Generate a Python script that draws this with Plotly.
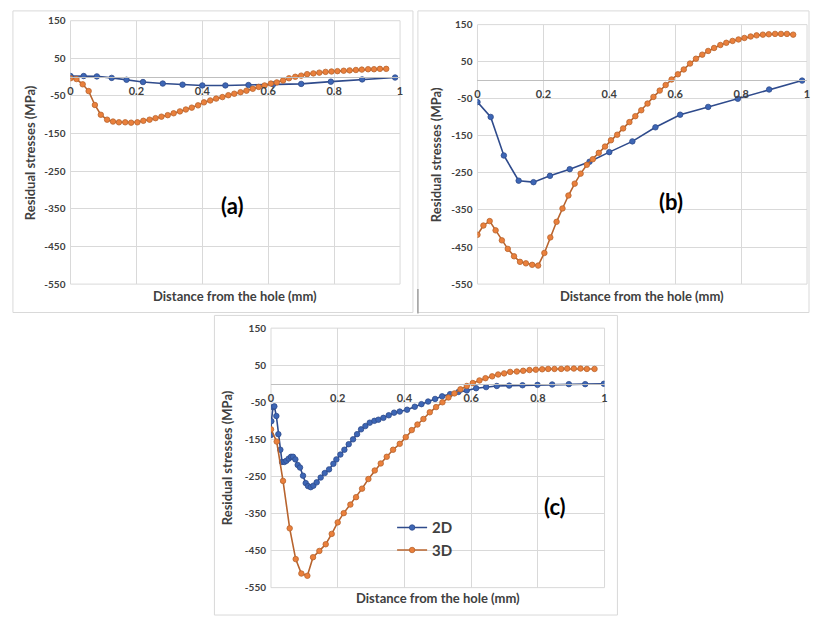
import plotly.graph_objects as go

W, H = 814, 623

# ---------------- data ----------------
X2D_AB = [0.0, 0.04, 0.08, 0.125, 0.17, 0.22, 0.28, 0.34, 0.40, 0.47, 0.54, 0.615, 0.70, 0.79, 0.885, 0.985]
Y2D_A = [3, 3, 2, -2, -7, -13, -17, -20, -22, -22, -21, -19, -18, -12, -6, -1]
Y2D_B = [-59, -99, -203, -271, -275, -258, -240, -220, -194, -165, -127, -93, -72, -50, -25, -1]

X3D_AB = [0.000, 0.018, 0.037, 0.055, 0.074, 0.092, 0.111, 0.129, 0.147, 0.166, 0.184, 0.203,
          0.221, 0.240, 0.258, 0.276, 0.295, 0.313, 0.332, 0.350, 0.368, 0.387, 0.405, 0.424,
          0.442, 0.461, 0.479, 0.497, 0.516, 0.534, 0.553, 0.571, 0.589, 0.608, 0.626, 0.645,
          0.663, 0.682, 0.700, 0.718, 0.737, 0.755, 0.774, 0.792, 0.810, 0.829, 0.847, 0.866,
          0.884, 0.903, 0.921, 0.939, 0.958]
Y3D_A = [-3, -5, -19, -37, -74, -100, -113, -118, -120, -120, -121, -120,
         -116, -113, -109, -105, -101, -96, -91, -86, -81, -75, -67, -62,
         -57, -53, -48, -44, -40, -36, -31, -26, -22, -17, -14, -9,
         -3, 1, 4, 8, 10, 12, 14, 15, 16, 17, 18, 19,
         20, 21, 21, 22, 22]
Y3D_B = [-417, -392, -380, -405, -432, -455, -475, -490, -494, -498, -500, -466,
         -424, -382, -346, -311, -279, -252, -228, -213, -196, -179, -162, -147,
         -130, -113, -97, -81, -63, -45, -28, -13, 2, 16, 29, 45,
         58, 69, 79, 87, 95, 101, 106, 110, 114, 118, 121, 123,
         124, 125, 125, 125, 123]

X2D_C = [0.0, 0.001, 0.006, 0.010, 0.016, 0.022, 0.028, 0.033, 0.040, 0.046, 0.053, 0.060,
         0.066, 0.073, 0.080, 0.087, 0.096, 0.104, 0.111, 0.119, 0.127, 0.137, 0.149, 0.161,
         0.174, 0.187, 0.196, 0.208, 0.220, 0.233, 0.246, 0.258, 0.270, 0.283, 0.296, 0.310,
         0.322, 0.337, 0.353, 0.369, 0.386, 0.408, 0.431, 0.451, 0.471, 0.492, 0.513, 0.537,
         0.562, 0.587, 0.615, 0.645, 0.677, 0.714, 0.754, 0.799, 0.843, 0.893, 0.942, 0.998]
Y2D_C = [-138, -101, -63, -61, -87, -136, -178, -211, -211, -208, -202, -197,
         -197, -204, -219, -226, -248, -268, -276, -279, -275, -266, -253, -241,
         -231, -216, -204, -191, -178, -163, -150, -136, -123, -114, -105, -100,
         -97, -92, -85, -78, -75, -70, -62, -55, -48, -41, -34, -28,
         -22, -18, -12, -9, -6, -5, -4, -3, -2, -1, -1, 0]

X3D_C = [0.000, 0.017, 0.036, 0.056, 0.074, 0.091, 0.109, 0.126, 0.145, 0.164, 0.182, 0.200,
         0.218, 0.238, 0.255, 0.273, 0.292, 0.311, 0.329, 0.347, 0.366, 0.386, 0.404, 0.422,
         0.439, 0.457, 0.476, 0.495, 0.514, 0.532, 0.550, 0.568, 0.587, 0.605, 0.625, 0.643,
         0.663, 0.681, 0.699, 0.717, 0.737, 0.756, 0.775, 0.794, 0.813, 0.831, 0.850, 0.870,
         0.888, 0.908, 0.928, 0.947, 0.970]
Y3D_C = [-123, -156, -262, -390, -473, -512, -518, -468, -451, -433, -405, -374,
         -349, -326, -306, -283, -257, -234, -215, -197, -178, -162, -144, -125,
         -110, -95, -77, -63, -50, -37, -26, -15, -6, 2, 9, 15,
         20, 25, 28, 32, 33, 35, 37, 38, 39, 40, 40, 40,
         41, 41, 41, 40, 40]

Y_TICKS = [150, 50, -50, -150, -250, -350, -450, -550]
Y_TICKTEXT = ["150", "50", "-50", "-150", "-250", "-350", "-450", "-550"]
X_TICKS = [0, 0.2, 0.4, 0.6, 0.8, 1]
X_TICKTEXT = ["0", "0.2", "0.4", "0.6", "0.8", "1"]
SERIES_NAMES = ["2D", "3D"]
PANEL_LABELS = ["(a)", "(b)", "(c)"]
X_TITLE = "Distance from the hole (mm)"
Y_TITLE = "Residual stresses (MPa)"

# ---------------- layout geometry (pixels) ----------------
PANELS = [(68, 400, 14, 283), (478, 810, 18, 283), (270, 606, 328, 593)]
FRAMES = [(10, 413, 4, 312), (418, 812, 4, 312), (213, 619, 315, 621)]
YTITLE_X = [28, 437, 226]
XTITLE_Y = [295, 295, 604]
LABEL_POS = [(0.49, -342), (0.587, -328), (0.851, -331)]

BLUE_LINE, BLUE_MK = "#2F4B8C", "#3D66B5"
ORG_LINE, ORG_MK = "#B8642E", "#EA803C"
GRID = "#D9D9D9"
TXT = "#404040"
FONT = "Lato"

fig = go.Figure()

data = [
    (X2D_AB, Y2D_A, X3D_AB, Y3D_A),
    (X2D_AB, Y2D_B, X3D_AB, Y3D_B),
    (X2D_C, Y2D_C, X3D_C, Y3D_C),
]

for i, (x2, y2, x3, y3) in enumerate(data):
    sfx = "" if i == 0 else str(i + 1)
    show = (i == 2)
    fig.add_trace(go.Scatter(
        x=x2, y=y2, mode="lines+markers", name=SERIES_NAMES[0], showlegend=show,
        xaxis="x" + sfx, yaxis="y" + sfx,
        line=dict(color=BLUE_LINE, width=1.6),
        marker=dict(symbol="circle", size=5.5, color=BLUE_MK, line=dict(color=BLUE_LINE, width=0.8)),
    ))
    fig.add_trace(go.Scatter(
        x=x3, y=y3, mode="lines+markers", name=SERIES_NAMES[1], showlegend=show,
        xaxis="x" + sfx, yaxis="y" + sfx,
        line=dict(color=ORG_LINE, width=1.6),
        marker=dict(symbol="circle", size=5.5, color=ORG_MK, line=dict(color=ORG_LINE, width=0.8)),
    ))

layout = dict(
    width=W, height=H,
    margin=dict(l=0, r=0, t=0, b=0),
    paper_bgcolor="white", plot_bgcolor="white",
    font=dict(family=FONT, color=TXT),
    legend=dict(x=392 / W, y=1 - 515 / H, xanchor="left", yanchor="top",
                bgcolor="rgba(0,0,0,0)", font=dict(size=15, color=TXT, weight="bold"),
                tracegroupgap=0, itemwidth=30),
    showlegend=True,
)

shapes = []
annotations = []
for i, (l, r, t, b) in enumerate(PANELS):
    sfx = "" if i == 0 else str(i + 1)
    xd = [l / W, r / W]
    yd = [1 - b / H, 1 - t / H]
    y0_pos = yd[0] + (0 - (-550)) / 700 * (yd[1] - yd[0])
    layout["xaxis" + sfx] = dict(
        domain=xd, range=[0, 1], anchor="free", position=y0_pos,
        tickvals=X_TICKS, ticktext=X_TICKTEXT,
        showgrid=True, gridcolor=GRID, gridwidth=1,
        showline=True, linecolor="#BFBFBF", linewidth=1,
        zeroline=False, ticks="outside", ticklen=4, tickcolor="rgba(0,0,0,0)",
        tickfont=dict(size=11, color=TXT, weight="bold"),
        fixedrange=True,
    )
    layout["yaxis" + sfx] = dict(
        domain=yd, range=[-550, 150], anchor="x" + sfx,
        tickvals=Y_TICKS, ticktext=Y_TICKTEXT,
        showgrid=True, gridcolor=GRID, gridwidth=1,
        showline=False, zeroline=False,
        ticks="outside", ticklen=2, tickcolor="rgba(0,0,0,0)",
        tickfont=dict(size=10, color=TXT, weight="bold"),
        fixedrange=True,
    )
    # plot-area outline (edge gridlines)
    shapes.append(dict(type="rect", xref="x" + sfx + " domain", yref="y" + sfx + " domain",
                       x0=0, x1=1, y0=0, y1=1, line=dict(color=GRID, width=1), layer="below"))
    # frames
    fl, fr, ft, fb = FRAMES[i]
    shapes.append(dict(type="rect", xref="paper", yref="paper",
                       x0=fl / W, x1=fr / W, y0=1 - fb / H, y1=1 - ft / H,
                       line=dict(color="#D9D9D9", width=1), layer="below"))
    # titles
    annotations.append(dict(text=X_TITLE, xref="paper", yref="paper",
                            x=(l + r) / 2 / W, y=1 - XTITLE_Y[i] / H,
                            xanchor="center", yanchor="middle", showarrow=False,
                            font=dict(size=13, color=TXT, weight="bold")))
    annotations.append(dict(text=Y_TITLE, xref="paper", yref="paper",
                            x=YTITLE_X[i] / W, y=1 - (t + b) / 2 / H, textangle=-90,
                            xanchor="center", yanchor="middle", showarrow=False,
                            font=dict(size=13, color=TXT, weight="bold")))
    lx, ly = LABEL_POS[i]
    annotations.append(dict(text=PANEL_LABELS[i], xref="x" + sfx, yref="y" + sfx, x=lx, y=ly,
                            xanchor="center", yanchor="middle", showarrow=False,
                            font=dict(size=22, color="#000000", weight="bold")))

# separator line between top panels
shapes.append(dict(type="line", xref="paper", yref="paper",
                   x0=418 / W, x1=418 / W, y0=1 - 313 / H, y1=1 - 288 / H,
                   line=dict(color="#8C8C8C", width=1.2)))

layout["shapes"] = shapes
layout["annotations"] = annotations
fig.update_layout(**layout)

fig.write_html("out.html")
